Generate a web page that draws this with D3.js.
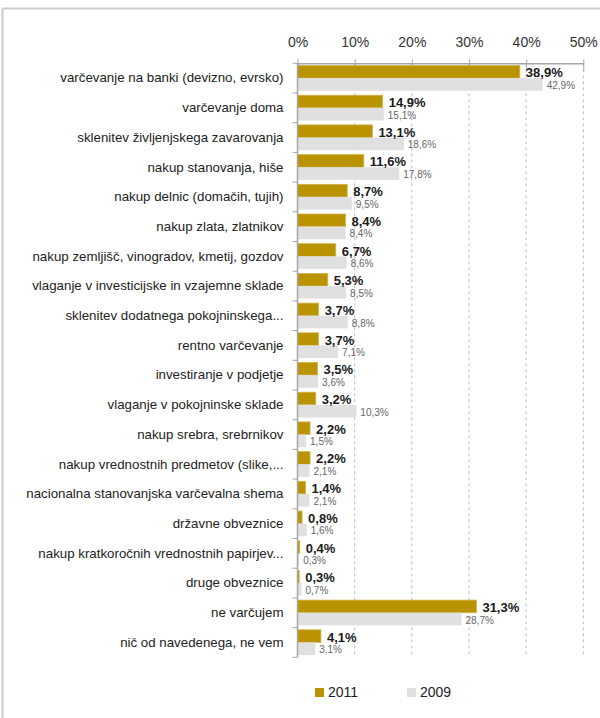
<!DOCTYPE html>
<html>
<head>
<meta charset="utf-8">
<script src="https://cdn.jsdelivr.net/npm/d3@7"></script>
<style>
html,body{margin:0;padding:0;background:#fff;}
svg{display:block;}
</style>
</head>
<body>
<svg id="chart" width="600" height="718"></svg>
<script>
const categories = [
  "varčevanje na banki (devizno, evrsko)",
  "varčevanje doma",
  "sklenitev življenjskega zavarovanja",
  "nakup stanovanja, hiše",
  "nakup delnic (domačih, tujih)",
  "nakup zlata, zlatnikov",
  "nakup zemljišč, vinogradov, kmetij, gozdov",
  "vlaganje v investicijske in vzajemne sklade",
  "sklenitev dodatnega pokojninskega...",
  "rentno varčevanje",
  "investiranje v podjetje",
  "vlaganje v pokojninske sklade",
  "nakup srebra, srebrnikov",
  "nakup vrednostnih predmetov (slike,...",
  "nacionalna stanovanjska varčevalna shema",
  "državne obveznice",
  "nakup kratkoročnih vrednostnih papirjev...",
  "druge obveznice",
  "ne varčujem",
  "nič od navedenega, ne vem"
];
const values2011 = [38.9,14.9,13.1,11.6,8.7,8.4,6.7,5.3,3.7,3.7,3.5,3.2,2.2,2.2,1.4,0.8,0.4,0.3,31.3,4.1];
const values2009 = [42.9,15.1,18.6,17.8,9.5,8.4,8.6,8.5,8.8,7.1,3.6,10.3,1.5,2.1,2.1,1.6,0.3,0.7,28.7,3.1];
const seriesNames = ["2011","2009"];
const xTicks = [0,10,20,30,40,50];

const FONT = "'Liberation Sans Narrow','Liberation Sans',Arial,sans-serif";
const colors = {"2011":"#b99300","2009":"#e0e0e0"};

const svg = d3.select("#chart");

// frame (top and left edges visible)
svg.append("line").attr("x1",2.5).attr("x2",600).attr("y1",8.5).attr("y2",8.5).attr("stroke","#cbcbcb").attr("stroke-width",2);
svg.append("line").attr("x1",2.5).attr("x2",2.5).attr("y1",8.5).attr("y2",718).attr("stroke","#cbcbcb").attr("stroke-width",2);

const x = d3.scaleLinear().domain([0,50]).range([297.5,583.3]);
const y = d3.scaleBand().domain(categories).range([63.3,657.3]).paddingInner(0).paddingOuter(0);
const bw = y.bandwidth();
const pad = 2.2;
const bh = (bw - 2*pad)/2;

const fmt = d3.formatLocale({decimal:",",thousands:".",grouping:[3],currency:["","€"]}).format(".1f");

// gridlines
svg.append("g").selectAll("line").data(xTicks.filter(d=>d>0)).join("line")
  .attr("x1",d=>x(d)).attr("x2",d=>x(d))
  .attr("y1",y.range()[0]).attr("y2",y.range()[1])
  .attr("stroke","#bdbdbd").attr("stroke-width",1).attr("stroke-dasharray","3,3");

// top axis
const gx = svg.append("g").attr("transform",`translate(0,${y.range()[0]})`)
  .call(d3.axisTop(x).tickValues(xTicks).tickFormat(d=>d+"%").tickSize(4).tickSizeOuter(0));
gx.select(".domain").attr("stroke","#a6a6a6").attr("stroke-width",1.5);
gx.selectAll(".tick line").attr("stroke","#a6a6a6").attr("y2",8).attr("y1",-4);
gx.selectAll(".tick text").attr("font-family",FONT).attr("font-size",14).attr("fill","#333").attr("y",-21).attr("dy","0.35em");

// bars 2011
svg.append("g").selectAll("rect").data(categories).join("rect")
  .attr("x",x(0)).attr("y",d=>y(d)+pad)
  .attr("width",(d,i)=>x(values2011[i])-x(0)).attr("height",bh)
  .attr("fill",colors["2011"]).attr("stroke","#d2b64a").attr("stroke-width",0.8);
// bars 2009
svg.append("g").selectAll("rect").data(categories).join("rect")
  .attr("x",x(0)).attr("y",d=>y(d)+pad+bh)
  .attr("width",(d,i)=>x(values2009[i])-x(0)).attr("height",bh)
  .attr("fill",colors["2009"]);

// left axis line and boundary ticks
svg.append("line").attr("x1",x(0)).attr("x2",x(0)).attr("y1",y.range()[0]).attr("y2",y.range()[1]).attr("stroke","#a6a6a6").attr("stroke-width",1.5);
const bounds = categories.map(d=>y(d)).concat([y.range()[1]]);
svg.append("g").selectAll("line").data(bounds).join("line")
  .attr("x1",x(0)-5).attr("x2",x(0)).attr("y1",d=>d).attr("y2",d=>d)
  .attr("stroke","#a6a6a6").attr("stroke-width",1);

// category labels
const gy = svg.append("g").attr("transform",`translate(${x(0)-14},0)`)
  .call(d3.axisLeft(y).tickSize(0).tickPadding(0));
gy.select(".domain").remove();
gy.selectAll(".tick text").attr("font-family",FONT).attr("font-size",13.3).attr("fill","#222");

// value labels
svg.append("g").selectAll("text").data(categories).join("text")
  .attr("x",(d,i)=>x(values2011[i])+6).attr("y",d=>y(d)+pad+bh/2+1)
  .attr("dy","0.35em").attr("font-family",FONT).attr("font-size",13).attr("font-weight","bold").attr("fill","#1a1a1a")
  .text((d,i)=>fmt(values2011[i])+"%");
svg.append("g").selectAll("text").data(categories).join("text")
  .attr("x",(d,i)=>x(values2009[i])+4).attr("y",d=>y(d)+pad+bh*1.5+1)
  .attr("dy","0.35em").attr("font-family",FONT).attr("font-size",10).attr("fill","#666")
  .text((d,i)=>fmt(values2009[i])+"%");

// legend
const leg = svg.append("g");
const legX = [315,407];
seriesNames.forEach((s,i)=>{
  leg.append("rect").attr("x",legX[i]).attr("y",688).attr("width",9).attr("height",9).attr("fill",colors[s]);
  leg.append("text").attr("x",legX[i]+13).attr("y",692.5).attr("dy","0.35em")
    .attr("font-family",FONT).attr("font-size",14).attr("fill","#222").text(s);
});
</script>
</body>
</html>
